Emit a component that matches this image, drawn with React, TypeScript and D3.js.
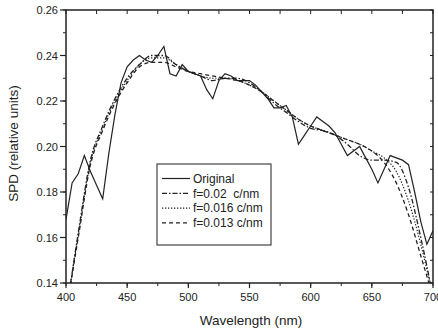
import React from "react";
import * as d3 from "d3";

const origNm = [400,405,410,415,420,425,430,435,440,445,450,455,460,465,470,475,480,485,490,495,500,505,510,515,520,525,530,535,540,545,550,555,560,565,570,575,580,585,590,595,600,605,610,615,620,625,630,635,640,645,650,655,660,665,670,675,680,685,690,695,700];
const origVal = [0.168,0.184,0.188,0.196,0.189,0.183,0.177,0.197,0.214,0.228,0.235,0.238,0.240,0.238,0.237,0.240,0.244,0.232,0.231,0.236,0.233,0.232,0.231,0.225,0.221,0.229,0.232,0.231,0.229,0.229,0.229,0.227,0.224,0.221,0.217,0.217,0.218,0.213,0.201,0.205,0.209,0.213,0.211,0.209,0.206,0.201,0.196,0.198,0.200,0.195,0.190,0.184,0.190,0.196,0.195,0.194,0.192,0.180,0.167,0.157,0.163];

const smoothNm = [400,410,420,430,440,450,460,470,480,490,500,510,520,530,540,550,560,570,580,590,600,610,620,630,640,650,660,670,680,690,700];
const f020 = [0.126,0.162,0.194,0.209,0.221,0.230,0.236,0.240,0.240,0.236,0.233,0.231,0.229,0.230,0.230,0.228,0.224,0.219,0.215,0.211,0.208,0.207,0.205,0.201,0.196,0.194,0.194,0.193,0.182,0.160,0.134];
const f016 = [0.127,0.161,0.193,0.208,0.220,0.229,0.236,0.239,0.239,0.236,0.233,0.231,0.230,0.230,0.229,0.227,0.224,0.220,0.216,0.212,0.209,0.207,0.205,0.203,0.201,0.198,0.195,0.189,0.176,0.157,0.134];
const f013 = [0.127,0.160,0.192,0.207,0.219,0.228,0.235,0.237,0.237,0.235,0.233,0.232,0.231,0.230,0.229,0.227,0.224,0.220,0.216,0.212,0.209,0.207,0.205,0.203,0.201,0.198,0.193,0.184,0.170,0.152,0.134];

const xTicks = [400,450,500,550,600,650,700];
const yTicks = [0.14,0.16,0.18,0.20,0.22,0.24,0.26];
const legendLabels = ["Original","f=0.02  c/nm","f=0.016 c/nm","f=0.013 c/nm"];

const W = 438, H = 330;
const L = 66, R = 433, T = 10, B = 283;

export default function App() {
  const x = d3.scaleLinear().domain([400, 700]).range([L, R]);
  const y = d3.scaleLinear().domain([0.14, 0.26]).range([B, T]);
  const lin = d3.line<[number, number]>().x(d => x(d[0])).y(d => y(d[1]));
  const smooth = d3.line<[number, number]>().x(d => x(d[0])).y(d => y(d[1])).curve(d3.curveMonotoneX);
  const orig = origNm.map((n, i) => [n, origVal[i]] as [number, number]);
  const s = (arr: number[]) => smoothNm.map((n, i) => [n, arr[i]] as [number, number]);
  const xMinor = d3.range(400, 701, 25);
  const yMinor = d3.range(0.14, 0.2601, 0.01);
  const font = "Liberation Sans, Arial, sans-serif";
  const col = "#222";
  const series = [
    { d: lin(orig), dash: "", w: 1.2 },
    { d: smooth(s(f020)), dash: "5,2,1.5,2", w: 1.3 },
    { d: smooth(s(f016)), dash: "1.3,1.7", w: 1.2 },
    { d: smooth(s(f013)), dash: "4,3", w: 1.3 },
  ];
  const legX = 157, legY = 164, legW = 114, legH = 81;
  return (
    <svg width={W} height={H} style={{ display: "block", position: "absolute", left: 0, top: 0, background: "#fff" }}>
      <defs>
        <clipPath id="plotclip"><rect x={L} y={T} width={R - L} height={B - T} /></clipPath>
      </defs>
      <rect x={0} y={0} width={W} height={H} fill="#fff" />
      <g clipPath="url(#plotclip)">
        {series.map((sr, i) => (
          <path key={i} d={sr.d || ""} fill="none" stroke={col} strokeWidth={sr.w} strokeDasharray={sr.dash || undefined} />
        ))}
      </g>
      {xMinor.map((v, i) => (
        <g key={"xm" + i}>
          <line x1={x(v)} x2={x(v)} y1={B} y2={B + 3} stroke={col} strokeWidth={1} />
          <line x1={x(v)} x2={x(v)} y1={T} y2={T + 4} stroke={col} strokeWidth={1} />
        </g>
      ))}
      {yMinor.map((v, i) => (
        <g key={"ym" + i}>
          <line x1={L - 3} x2={L} y1={y(v)} y2={y(v)} stroke={col} strokeWidth={1} />
          <line x1={R - 3} x2={R} y1={y(v)} y2={y(v)} stroke={col} strokeWidth={1} />
        </g>
      ))}
      {xTicks.map((v, i) => (
        <g key={"xt" + i}>
          <line x1={x(v)} x2={x(v)} y1={B} y2={B + 5} stroke={col} strokeWidth={1.2} />
          <text x={x(v)} y={301} textAnchor="middle" fontFamily={font} fontSize={11} fill={col}>{v}</text>
        </g>
      ))}
      {yTicks.map((v, i) => (
        <g key={"yt" + i}>
          <line x1={L - 6} x2={L} y1={y(v)} y2={y(v)} stroke={col} strokeWidth={1.2} />
          <text x={L - 8} y={y(v) + 4} textAnchor="end" fontFamily={font} fontSize={11} fill={col}>{v.toFixed(2)}</text>
        </g>
      ))}
      <rect x={L} y={T} width={R - L} height={B - T} fill="none" stroke={col} strokeWidth={1.5} />
      <text x={251} y={325} textAnchor="middle" fontFamily={font} fontSize={13.5} fill={col}>Wavelength (nm)</text>
      <text transform={`translate(18,${(T + B) / 2 - 3}) rotate(-90)`} textAnchor="middle" fontFamily={font} fontSize={13.5} fill={col}>SPD (relative units)</text>
      <rect x={legX} y={legY} width={legW} height={legH} fill="#fff" stroke="#444" strokeWidth={1.2} />
      {legendLabels.map((lab, i) => {
        const ly = 178.5 + i * 14.8;
        return (
          <g key={"lg" + i}>
            <line x1={162} x2={190} y1={ly} y2={ly} stroke={col} strokeWidth={series[i].w} strokeDasharray={series[i].dash || undefined} />
            <text x={193} y={ly + 4.3} fontFamily={font} fontSize={12} fill={col} style={{ whiteSpace: "pre" }} xmlSpace="preserve">{lab}</text>
          </g>
        );
      })}
    </svg>
  );
}
